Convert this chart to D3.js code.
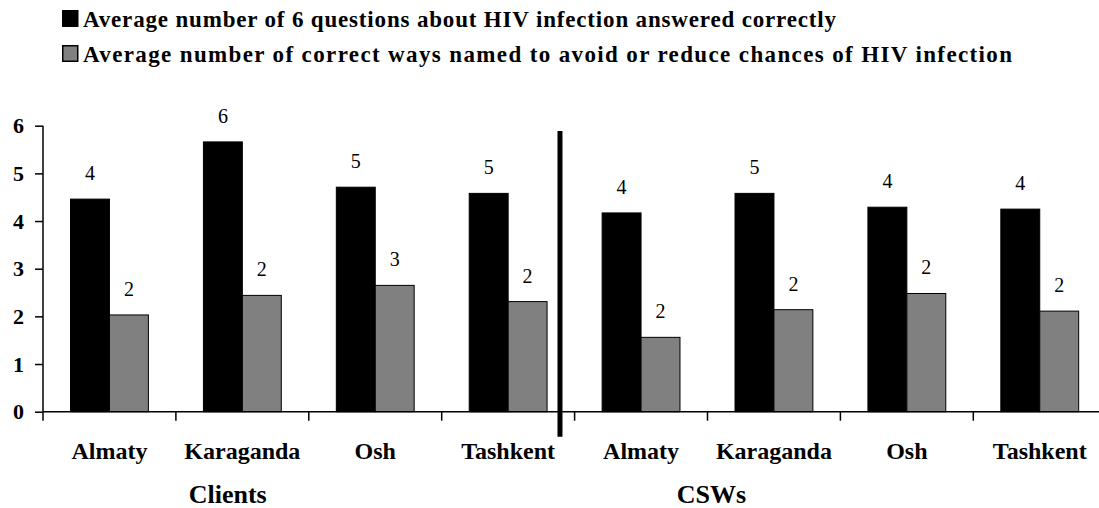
<!DOCTYPE html>
<html>
<head>
<meta charset="utf-8">
<script src="https://cdn.jsdelivr.net/npm/d3@7"></script>
</head>
<body style="margin:0">
<svg id="chart" width="1099" height="508"></svg>
<script>
// Cities surveyed, first for clients then for CSWs
const categories = ["Almaty", "Karaganda", "Osh", "Tashkent", "Almaty", "Karaganda", "Osh", "Tashkent"];
const groups = ["Clients", "CSWs"];
const seriesNames = [
  "Average number of 6 questions about HIV infection answered correctly",
  "Average number of correct ways named to avoid or reduce chances of HIV infection"
];
// Average scores per city
const questionsCorrect = [4.46, 5.66, 4.71, 4.58, 4.17, 4.58, 4.29, 4.25];
const waysNamed = [2.03, 2.44, 2.65, 2.31, 1.56, 2.14, 2.48, 2.11];
const yTicks = [0, 1, 2, 3, 4, 5, 6];

const seriesColors = ["#000000", "#808080"];
const series = [questionsCorrect, waysNamed];
const FONT = "Liberation Serif";

const W = 1099, H = 508;
const plotLeft = 43, plotTop = 125.7, plotBottom = 411.7, step = 132.9;

const svg = d3.select("#chart");

const y = d3.scaleLinear().domain([0, 6]).range([plotBottom, plotTop]);
const x0 = d3.scaleBand()
  .domain(d3.range(categories.length))
  .range([plotLeft, plotLeft + step * categories.length])
  .paddingInner(0).paddingOuter(0);
const x1 = d3.scaleBand()
  .domain(d3.range(series.length))
  .range([0, x0.bandwidth()])
  .paddingInner(0).paddingOuter(0.707);

const fmt = d3.format(".0f");

// Bars
const cat = svg.append("g").selectAll("g")
  .data(d3.range(categories.length))
  .join("g")
  .attr("transform", i => `translate(${x0(i)},0)`);

cat.selectAll("rect")
  .data(i => series.map((s, k) => ({ k, v: s[i] })))
  .join("rect")
  .attr("x", d => x1(d.k))
  .attr("y", d => y(d.v))
  .attr("width", x1.bandwidth())
  .attr("height", d => y(0) - y(d.v))
  .attr("fill", d => seriesColors[d.k])
  .attr("stroke", "#000")
  .attr("stroke-width", 1);

// Value labels above the bars
cat.selectAll("text.val")
  .data(i => series.map((s, k) => ({ k, v: s[i] })))
  .join("text")
  .attr("class", "val")
  .attr("x", d => x1(d.k) + x1.bandwidth() / 2)
  .attr("y", d => y(d.v) - 19)
  .attr("text-anchor", "middle")
  .style("font-family", FONT)
  .style("font-size", "20px")
  .text(d => fmt(d.v));

// Y axis
const yAxis = svg.append("g")
  .attr("transform", `translate(${plotLeft},0)`)
  .call(d3.axisLeft(y).tickValues(yTicks).tickSize(8).tickPadding(11).tickFormat(d3.format("d")));
yAxis.attr("font-family", null).attr("font-size", null);
yAxis.select(".domain").attr("stroke", "#000").attr("stroke-width", 1.5).attr("d", `M0,${plotTop}V${plotBottom}`);
yAxis.selectAll(".tick line").attr("stroke", "#000").attr("stroke-width", 1.5);
yAxis.selectAll(".tick text")
  .style("font-family", FONT)
  .style("font-weight", "bold")
  .style("font-size", "22px")
  .attr("fill", "#000");

// X axis line with tick marks on category boundaries
const xAxis = svg.append("g");
xAxis.append("line")
  .attr("x1", plotLeft).attr("x2", W)
  .attr("y1", y(0)).attr("y2", y(0))
  .attr("stroke", "#000").attr("stroke-width", 1.5);
xAxis.selectAll("line.tick")
  .data(d3.range(categories.length + 1))
  .join("line")
  .attr("class", "tick")
  .attr("x1", i => plotLeft + i * x0.step())
  .attr("x2", i => plotLeft + i * x0.step())
  .attr("y1", y(0)).attr("y2", y(0) + 9)
  .attr("stroke", "#000").attr("stroke-width", 1.5);

// Category labels
xAxis.selectAll("text.cat")
  .data(d3.range(categories.length))
  .join("text")
  .attr("class", "cat")
  .attr("x", i => x0(i) + x0.bandwidth() / 2)
  .attr("y", 459)
  .attr("text-anchor", "middle")
  .style("font-family", FONT)
  .style("font-weight", "bold")
  .style("font-size", "24px")
  .text(i => categories[i]);

// Group labels
const groupPos = [1.39, 5.03];
svg.selectAll("text.grp")
  .data(groups)
  .join("text")
  .attr("class", "grp")
  .attr("x", (g, j) => plotLeft + groupPos[j] * x0.step())
  .attr("y", 503)
  .attr("text-anchor", "middle")
  .style("font-family", FONT)
  .style("font-weight", "bold")
  .style("font-size", "26px")
  .text(g => g);

// Divider between the two groups
const divX = plotLeft + 3.89 * x0.step();
svg.append("line")
  .attr("x1", divX).attr("x2", divX)
  .attr("y1", y(5.89)).attr("y2", y(0) + 25)
  .attr("stroke", "#000").attr("stroke-width", 5);

// Legend
const legendLengths = [753, 929];
const legend = svg.append("g").selectAll("g")
  .data(seriesNames)
  .join("g")
  .attr("transform", (d, k) => `translate(62,${10 + k * 35})`);
legend.append("rect")
  .attr("x", 0.75).attr("y", 0.75)
  .attr("width", 15).attr("height", 15.5)
  .attr("fill", (d, k) => seriesColors[k])
  .attr("stroke", "#000").attr("stroke-width", 1.5);
legend.append("text")
  .attr("x", 21)
  .attr("y", 16.5)
  .attr("textLength", (d, k) => legendLengths[k])
  .attr("lengthAdjust", "spacing")
  .style("font-family", FONT)
  .style("font-weight", "bold")
  .style("font-size", "23px")
  .text(d => d);
</script>
</body>
</html>
